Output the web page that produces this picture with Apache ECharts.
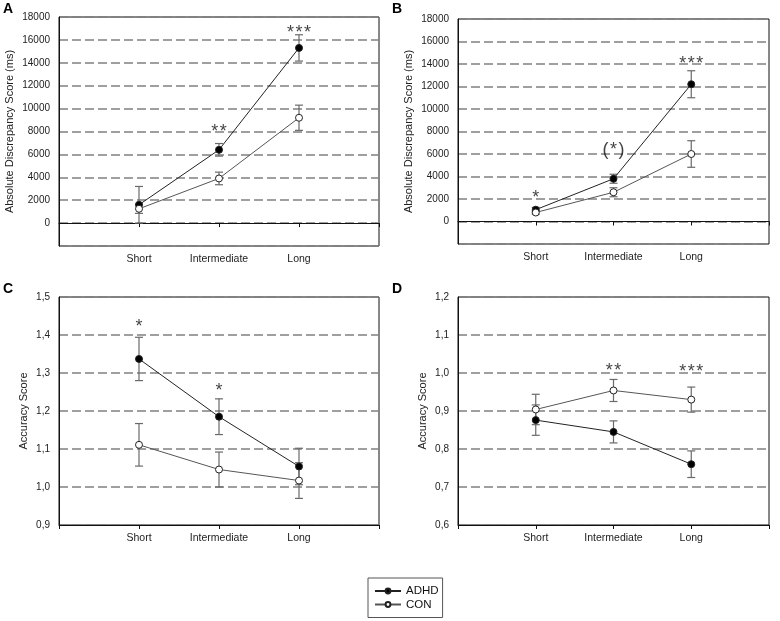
<!DOCTYPE html>
<html>
<head>
<meta charset="UTF-8">
<title>ADHD vs CON</title>
<script type="text/javascript" src="https://cdn.jsdelivr.net/npm/echarts@6/dist/echarts.min.js"></script>
</head>
<body style="margin:0;background:#fff;">

<div id="box" style="width:780px;height:621px;"></div>

<script type="text/javascript">
// categories on x (placed at 1,2,3 of a 0..4 axis)
var categories = ['Short', 'Intermediate', 'Long'];

// panel A - absolute discrepancy (ms)
var adhdA = [1600, 6400, 15300];
var adhdAErr = [1600, 550, 1150];
var conA = [1250, 3900, 9200];
var conAErr = [400, 550, 1100];
var starsA = [[2, 8420, '**'], [3, 17050, '***']];

// panel B
var adhdB = [1050, 3800, 12200];
var adhdBErr = [200, 400, 1200];
var conB = [800, 2600, 6000];
var conBErr = [150, 400, 1180];
var starsB = [[1, 2560, '*'], [2, 6760, '(*)'], [3, 14470, '***']];

// panel C - accuracy score
var adhdC = [1.337, 1.185, 1.054];
var adhdCErr = [0.057, 0.047, 0.048];
var conC = [1.111, 1.046, 1.017];
var conCErr = [0.056, 0.046, 0.047];
var starsC = [[1, 1.434, '*'], [2, 1.266, '*']];

// panel D
var adhdD = [0.876, 0.845, 0.760];
var adhdDErr = [0.040, 0.029, 0.035];
var conD = [0.904, 0.954, 0.930];
var conDErr = [0.040, 0.029, 0.033];
var starsD = [[2, 1.018, '**'], [3, 1.016, '***']];

var FONT = 'Liberation Sans, Arial, sans-serif';

var mychart = echarts.init(document.getElementById('box'));

function pts(vals) {
  return vals.map(function (v, i) { return [i + 1, v]; });
}
function errs(vals, e) {
  return vals.map(function (v, i) { return [i + 1, v - e[i], v + e[i]]; });
}
function comma(v) { return v.toFixed(1).replace('.', ','); }

var grids = [
  {left: 59, top: 17, width: 320, height: 229},
  {left: 458, top: 19, width: 311, height: 225},
  {left: 59, top: 297, width: 320, height: 228},
  {left: 458, top: 297, width: 311, height: 228}
];
grids.forEach(function (g) { g.show = true; g.borderColor = '#111'; g.borderWidth = 1; });

var xAxes = grids.map(function (g, i) {
  return {
    type: 'value', gridIndex: i, min: 0, max: 4, interval: 1,
    axisLine: {lineStyle: {color: '#111'}},
    axisTick: {length: 4, lineStyle: {color: '#111'}},
    splitLine: {show: false},
    axisLabel: {
      color: '#222', fontFamily: FONT, fontSize: 10.5, margin: 8,
      formatter: function (v) { return categories[v - 1] || ''; }
    }
  };
});

function yAxis(i, min, max, step, name, gap, fmt) {
  return {
    type: 'value', gridIndex: i, min: min, max: max, interval: step,
    name: name, nameLocation: 'middle', nameGap: gap, nameRotate: 90,
    nameTextStyle: {color: '#222', fontFamily: FONT, fontSize: 11},
    axisLine: {lineStyle: {color: '#111'}},
    axisTick: {show: false},
    axisLabel: {color: '#222', fontFamily: FONT, fontSize: 10, margin: 9, formatter: fmt},
    splitLine: {show: true, lineStyle: {color: '#808080', width: 1.5, type: [9, 4]}}
  };
}
var msFmt = function (v) { return v < 0 ? '' : String(v); };
var yAxes = [
  yAxis(0, -2000, 18000, 2000, 'Absolute Discrepancy Score (ms)', 44, msFmt),
  yAxis(1, -2000, 18000, 2000, 'Absolute Discrepancy Score (ms)', 44, msFmt),
  yAxis(2, 0.9, 1.5, 0.1, 'Accuracy Score', 30, comma),
  yAxis(3, 0.6, 1.2, 0.1, 'Accuracy Score', 30, comma)
];

function errSeries(i, data) {
  return {
    type: 'custom', xAxisIndex: i, yAxisIndex: i, z: 1, silent: true,
    data: data,
    renderItem: function (params, api) {
      var x = api.value(0);
      var lo = api.coord([x, api.value(1)]);
      var hi = api.coord([x, api.value(2)]);
      var c = 4;
      var st = {stroke: '#6a6a6a', lineWidth: 1.2};
      return {
        type: 'group',
        children: [
          {type: 'line', shape: {x1: lo[0], y1: lo[1], x2: hi[0], y2: hi[1]}, style: st},
          {type: 'line', shape: {x1: lo[0] - c, y1: lo[1], x2: lo[0] + c, y2: lo[1]}, style: st},
          {type: 'line', shape: {x1: hi[0] - c, y1: hi[1], x2: hi[0] + c, y2: hi[1]}, style: st}
        ]
      };
    }
  };
}

function lineSeries(i, name, vals) {
  var adhd = name === 'ADHD';
  return {
    name: name, type: 'line', xAxisIndex: i, yAxisIndex: i, z: 3,
    data: pts(vals), symbol: 'circle', symbolSize: 7,
    lineStyle: {color: adhd ? '#222' : '#555', width: 1},
    itemStyle: {color: adhd ? '#000' : '#fff', borderColor: '#222', borderWidth: 1},
    emphasis: {disabled: true}
  };
}

function starSeries(i, data) {
  return {
    type: 'scatter', xAxisIndex: i, yAxisIndex: i, z: 4, silent: true,
    symbolSize: 0, data: data.map(function (d) { return {value: [d[0], d[1]], name: d[2]}; }),
    label: {
      show: true, position: 'inside', offset: [0, 5],
      formatter: function (p) { return p.name.split('').join('\u200A'); },
      color: '#111', fontFamily: FONT, fontSize: 18
    }
  };
}

var panels = [
  [adhdA, adhdAErr, conA, conAErr, starsA],
  [adhdB, adhdBErr, conB, conBErr, starsB],
  [adhdC, adhdCErr, conC, conCErr, starsC],
  [adhdD, adhdDErr, conD, conDErr, starsD]
];
var series = [];
panels.forEach(function (p, i) {
  series.push(errSeries(i, errs(p[0], p[1])));
  series.push(errSeries(i, errs(p[2], p[3])));
  series.push(lineSeries(i, 'ADHD', p[0]));
  series.push(lineSeries(i, 'CON', p[2]));
  series.push(starSeries(i, p[4]));
});

var letterStyle = {color: '#000', fontFamily: FONT, fontSize: 14, fontWeight: 'bold'};
var option = {
  animation: false,
  title: [
    {text: 'A', left: 3, top: 2, textStyle: letterStyle, padding: 0},
    {text: 'B', left: 392, top: 2, textStyle: letterStyle, padding: 0},
    {text: 'C', left: 3, top: 282, textStyle: letterStyle, padding: 0},
    {text: 'D', left: 392, top: 282, textStyle: letterStyle, padding: 0}
  ],
  legend: {
    data: ['ADHD', 'CON'], orient: 'vertical', left: 368, top: 578,
    itemWidth: 26, itemHeight: 6, itemGap: 1.5,
    padding: [7, 4, 7, 6],
    borderColor: '#555', borderWidth: 1, selectedMode: false,
    textStyle: {color: '#111', fontFamily: FONT, fontSize: 11.5}
  },
  grid: grids,
  xAxis: xAxes,
  yAxis: yAxes,
  series: series
};

mychart.setOption(option);
</script>
</body>
</html>
